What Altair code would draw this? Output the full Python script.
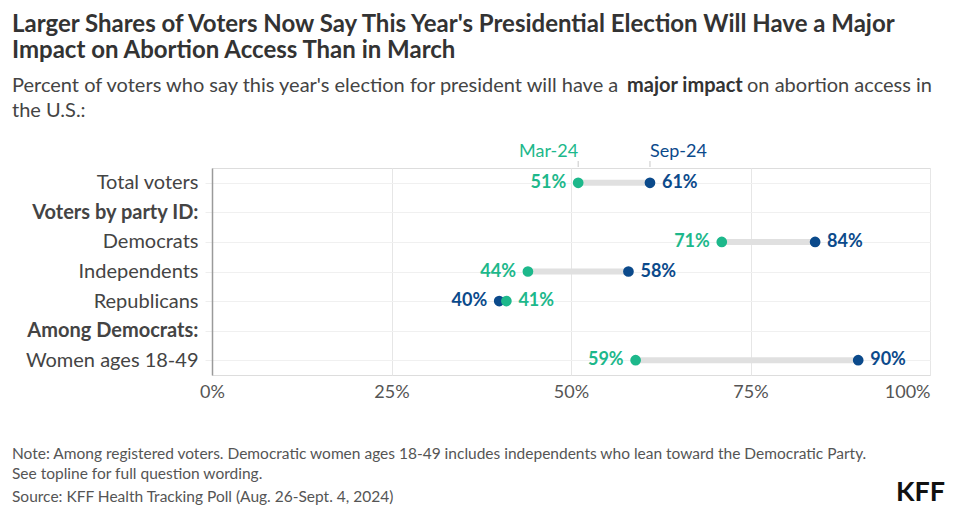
import altair as alt
import pandas as pd

# ---- data ----
categories = ["Total voters", "Voters by party ID:", "Democrats", "Independents",
              "Republicans", "Among Democrats:", "Women ages 18-49"]
groups = ["Total voters", "Democrats", "Independents", "Republicans", "Women ages 18-49"]
mar24 = [51, 71, 44, 41, 59]
sep24 = [61, 84, 58, 40, 90]
periods = ["Mar-24", "Sep-24"]
x_ticks = [0, 25, 50, 75, 100]

GREEN = "#1db88b"
BLUE = "#0b4a8b"
FONT = "Source Sans Pro, Lato, sans-serif"

rows = []
for g, m, s in zip(groups, mar24, sep24):
    # Sep first so that Mar is drawn on top when dots overlap
    rows.append({"group": g, "period": "Sep-24", "value": s,
                 "side": "left" if s < m else "right", "label": f"{s}%"})
    rows.append({"group": g, "period": "Mar-24", "value": m,
                 "side": "left" if m < s else "right", "label": f"{m}%"})
long_df = pd.DataFrame(rows)
long_df["order"] = range(len(long_df))
wide_df = pd.DataFrame({"group": groups, "mar": mar24, "sep": sep24})
head_df = pd.DataFrame({"period": periods, "value": [mar24[0], sep24[0]],
                        "align": ["right", "left"]})

y_enc = alt.Y("group:N", sort=categories, scale=alt.Scale(domain=categories, type="point", padding=0.5),
              axis=alt.Axis(title=None, domainColor="#9a9a9a", domainWidth=1.5,
                            tickColor="#eeeeee", tickSize=7, labelPadding=7,
                            grid=True, gridColor="#f0f0f0",
                            labelFont=FONT, labelFontSize=20, labelColor="#444444",
                            labelFontWeight=alt.condition(
                                "indexof(['Voters by party ID:','Among Democrats:'], datum.value) >= 0",
                                alt.value("bold"), alt.value("normal"))))
x_scale = alt.Scale(domain=[0, 100], nice=False)
x_axis = alt.Axis(title=None, values=x_ticks, labelExpr="datum.value + '%'", domain=False,
                  ticks=False, grid=True, gridColor="#e6e6e6", labelPadding=8,
                  labelFont=FONT, labelFontSize=18, labelColor="#555555",
                  labelAlign=alt.condition("datum.value == 100", alt.value("right"), alt.value("center")))
color_scale = alt.Scale(domain=periods, range=[GREEN, BLUE])

bars = alt.Chart(wide_df).mark_rule(color="#e0e0e0", strokeWidth=6).encode(
    x=alt.X("mar:Q", scale=x_scale, axis=x_axis), x2="sep:Q", y=y_enc)

dots = alt.Chart(long_df).mark_circle(size=115, opacity=1).encode(
    x=alt.X("value:Q", scale=x_scale), y=alt.Y("group:N", sort=categories),
    color=alt.Color("period:N", scale=color_scale, legend=None),
    order=alt.Order("order:Q"))

lab_left = alt.Chart(long_df).transform_filter("datum.side == 'left'").mark_text(
    align="right", baseline="middle", dx=-12, font=FONT, fontSize=18, fontWeight="bold").encode(
    x="value:Q", y=alt.Y("group:N", sort=categories), text="label:N",
    color=alt.Color("period:N", scale=color_scale, legend=None))
lab_right = alt.Chart(long_df).transform_filter("datum.side == 'right'").mark_text(
    align="left", baseline="middle", dx=12, font=FONT, fontSize=18, fontWeight="bold").encode(
    x="value:Q", y=alt.Y("group:N", sort=categories), text="label:N",
    color=alt.Color("period:N", scale=color_scale, legend=None))

head_ticks = alt.Chart(head_df).mark_rule(color="#c8c8c8", strokeWidth=1).encode(
    x="value:Q", y=alt.value(-7), y2=alt.value(-1))
head_mar = alt.Chart(head_df).transform_filter("datum.align == 'right'").mark_text(
    align="right", baseline="middle", font=FONT, fontSize=18).encode(
    x="value:Q", y=alt.value(-16), text="period:N",
    color=alt.Color("period:N", scale=color_scale, legend=None))
head_sep = alt.Chart(head_df).transform_filter("datum.align == 'left'").mark_text(
    align="left", baseline="middle", font=FONT, fontSize=18).encode(
    x="value:Q", y=alt.value(-16), text="period:N",
    color=alt.Color("period:N", scale=color_scale, legend=None))

one = alt.Data(values=[{}])
def txt(s, x, y, size, weight="normal", color="#333333", align="left"):
    return alt.Chart(one).mark_text(text=s, align=align, baseline="middle", font=FONT,
                                    fontSize=size, fontWeight=weight, color=color).encode(
        x=alt.value(x), y=alt.value(y))

texts = [
    txt("Larger Shares of Voters Now Say This Year's Presidential Election Will Have a Major", -200, -143, 24, "bold"),
    txt("Impact on Abortion Access Than in March", -200, -117, 24, "bold"),
    txt("Percent of voters who say this year's election for president will have a", -200, -82, 20, color="#444444"),
    txt("major impact", 415, -82, 20, "bold", color="#333333"),
    txt("on abortion access in", 720, -82, 20, color="#444444", align="right"),
    txt("the U.S.:", -200, -57, 20, color="#444444"),
    txt("Note: Among registered voters. Democratic women ages 18-49 includes independents who lean toward the Democratic Party.", -200, 286, 15.5, color="#555555"),
    txt("See topline for full question wording.", -200, 306, 15.5, color="#555555"),
    txt("Source: KFF Health Tracking Poll (Aug. 26-Sept. 4, 2024)", -200, 329, 15.5, color="#555555"),
    txt("KFF", 733, 325, 27, "bold", color="#111111", align="right"),
]

chart = alt.layer(bars, dots, lab_left, lab_right, head_ticks, head_mar, head_sep, *texts).properties(
    width=718, height=207,
    autosize=alt.AutoSizeParams(type="none"),
    padding={"left": 204, "top": 160, "right": 22, "bottom": 138},
).configure_view(stroke=None).configure(background="white")

chart.save("out.html", embed_options={"renderer": "svg", "actions": False})
